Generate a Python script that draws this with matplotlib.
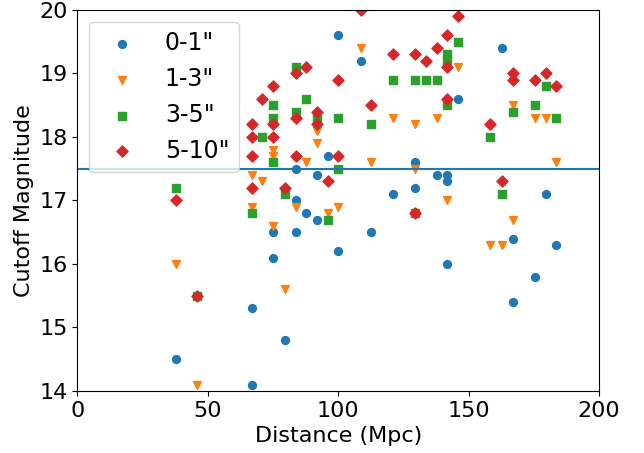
import matplotlib
matplotlib.use('Agg')
import matplotlib.pyplot as plt
from matplotlib.ticker import MultipleLocator

# distance (Mpc), cutoff magnitude, by aperture bin
dist_01 = [37.8, 66.8, 66.8, 75.1, 75.1, 79.6, 83.7, 83.7, 83.7, 87.6, 92.0, 92.0, 96.2,
           100.0, 100.0, 108.7, 112.6, 121.1, 129.3, 129.3, 137.8, 141.8, 141.8, 141.8,
           145.8, 162.9, 166.9, 166.9, 175.5, 179.6, 183.5]
mag_01 = [14.5, 15.3, 14.1, 16.5, 16.1, 14.8, 17.5, 17.0, 16.5, 16.8, 17.4, 16.7, 17.7,
          19.6, 16.2, 19.2, 16.5, 17.1, 17.6, 17.2, 17.4, 17.4, 17.3, 16.0,
          18.6, 19.4, 16.4, 15.4, 15.8, 17.1, 16.3]

dist_13 = [37.8, 45.9, 66.8, 66.8, 70.9, 75.1, 75.1, 75.1, 79.6, 83.7, 87.6, 92.0, 92.0,
           96.2, 100.0, 108.7, 112.6, 121.1, 129.3, 129.3, 137.8, 141.8, 145.8, 158.2,
           162.9, 166.9, 166.9, 175.5, 179.6, 183.5]
mag_13 = [16.0, 14.1, 17.4, 16.9, 17.3, 17.8, 17.7, 16.6, 15.6, 16.9, 17.6, 17.9, 18.1,
          16.8, 16.9, 19.4, 17.6, 18.3, 18.2, 17.5, 18.3, 17.0, 19.1, 16.3,
          16.3, 18.5, 16.7, 18.3, 18.3, 17.6]

dist_35 = [37.8, 45.9, 66.8, 70.9, 75.1, 75.1, 75.1, 79.6, 83.7, 83.7, 87.6, 92.0, 96.2,
           100.0, 100.0, 112.6, 121.1, 129.3, 129.3, 133.7, 137.8, 141.8, 141.8, 141.8,
           145.8, 158.2, 162.9, 166.9, 175.5, 179.6, 183.5]
mag_35 = [17.2, 15.5, 16.8, 18.0, 18.5, 18.3, 17.6, 17.1, 19.1, 18.4, 18.6, 18.3, 16.7,
          18.3, 17.5, 18.2, 18.9, 18.9, 16.8, 18.9, 18.9, 19.3, 19.2, 18.5,
          19.5, 18.0, 17.1, 18.4, 18.5, 18.8, 18.3]

dist_510 = [37.8, 45.9, 66.8, 66.8, 66.8, 66.8, 70.9, 75.1, 75.1, 75.1, 79.6, 83.7, 83.7,
            83.7, 87.6, 92.0, 92.0, 96.2, 100.0, 100.0, 108.7, 112.6, 121.1, 129.3, 129.3,
            133.7, 137.8, 141.8, 141.8, 141.8, 145.8, 158.2, 162.9, 166.9, 166.9, 175.5,
            179.6, 183.5]
mag_510 = [17.0, 15.5, 18.2, 18.0, 17.7, 17.2, 18.6, 18.8, 18.2, 18.0, 17.2, 19.0, 18.3,
           17.7, 19.1, 18.4, 18.2, 17.3, 18.9, 17.7, 20.0, 18.5, 19.3, 19.3, 16.8,
           19.2, 19.4, 19.6, 19.1, 18.6, 19.9, 18.2, 17.3, 19.0, 18.9, 18.9,
           19.0, 18.8]

cutoff = 17.5

fig, ax = plt.subplots(figsize=(6.44, 4.53), dpi=100)
fig.subplots_adjust(left=0.1203, right=0.930, bottom=0.137, top=0.978)

ax.scatter(dist_01, mag_01, marker='o', color='C0', s=32, label='0-1"')
ax.scatter(dist_13, mag_13, marker='v', color='C1', s=32, label='1-3"')
ax.scatter(dist_35, mag_35, marker='s', color='C2', s=32, label='3-5"')
ax.scatter(dist_510, mag_510, marker='D', color='C3', s=32, label='5-10"')
ax.axhline(cutoff, color='C0')

ax.set_xlim(0, 200)
ax.set_ylim(14, 20)
ax.xaxis.set_major_locator(MultipleLocator(50))
ax.set_xlabel('Distance (Mpc)', fontsize=16)
ax.set_ylabel('Cutoff Magnitude', fontsize=16)
ax.tick_params(labelsize=16)
ax.legend(loc='upper left', fontsize=17)

fig.savefig('out.png', dpi=100)
